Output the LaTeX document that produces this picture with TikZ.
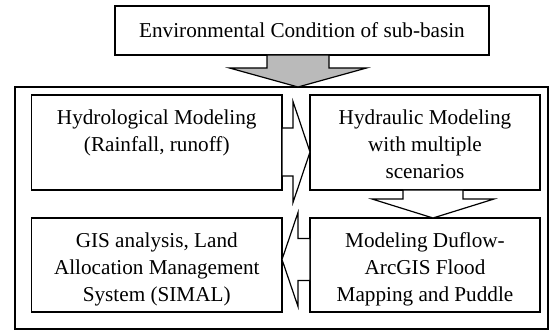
\documentclass[tikz,border=0pt]{standalone}
\usepackage{fontspec}
\setmainfont{Liberation Serif}
\usepackage{tikz}
\usetikzlibrary{calc, positioning}

% block arrow: [style]{from}{to}{shaft half width}{head half width}{head length}
\newcommand{\blockarrow}[6][]{%
  \coordinate (ahb) at ($(#3)!#6!(#2)$);
  \draw[#1] ($(#2)!#4!90:(#3)$) -- ($(ahb)!#4!90:(#3)$) -- ($(ahb)!#5!90:(#3)$) -- (#3)
    -- ($(ahb)!#5!-90:(#3)$) -- ($(ahb)!#4!-90:(#3)$) -- ($(#2)!#4!-90:(#3)$) -- cycle;
}

\begin{document}
\begin{tikzpicture}[x=1pt, y=-1pt,
  font=\fontsize{21.2}{26.7}\selectfont,
  box/.style={draw, line width=1.6pt, rectangle, inner sep=0pt},
  txt/.style={align=center, inner sep=0pt, anchor=north},
  hollow/.style={draw, line width=1.2pt, fill=white, line join=miter},
  solidgray/.style={draw, line width=1.2pt, fill=black!27, line join=miter}]
\useasboundingbox (0,0) rectangle (549,331);

% Top (sub-basin)
\node[box, minimum width=374pt, minimum height=49pt] (env) at (302,30.5) {Environmental Condition of sub-basin};

% Outer frame
\node[box, minimum width=533pt, minimum height=242pt] (outer) at (281.5,208) {};

% Inner boxes
\node[box, minimum width=250.5pt, minimum height=95pt] (hydro) at (156.75,142.5) {};
\node[box, minimum width=230pt, minimum height=95pt] (hydraulic) at (425,142.5) {};
\node[box, minimum width=250.5pt, minimum height=94pt] (gis) at (156.75,265) {};
\node[box, minimum width=230pt, minimum height=94pt] (duflow) at (425,265) {};

\node[txt, below=15.5pt of hydro.north] (hydroTxt) {Hydrological Modeling\\(Rainfall, runoff)};
\node[txt, below=15.5pt of hydraulic.north] (hydraulicTxt) {Hydraulic Modeling\\with multiple\\scenarios};
\node[txt, below=15.5pt of gis.north] (gisTxt) {GIS analysis, Land\\Allocation Management\\System (SIMAL)};
\node[txt, below=15.5pt of duflow.north] (duflowTxt) {Modeling Duflow-\\ArcGIS Flood\\Mapping and Puddle};

% Arrow ends
\coordinate (envOut) at (298,55);
\coordinate (outerIn) at (298,87);
\coordinate (hydroOut) at (282,152);
\coordinate (hydraulicIn) at (310,152);
\coordinate (hydraulicOut) at (433,190);
\coordinate (duflowIn) at (433,218);
\coordinate (duflowOut) at (310,259.5);
\coordinate (gisIn) at (282,259.5);

\blockarrow[solidgray]{envOut}{outerIn}{31pt}{68.5pt}{19pt}
\blockarrow[hollow]{hydroOut}{hydraulicIn}{24pt}{50.5pt}{17pt}
\blockarrow[hollow]{hydraulicOut}{duflowIn}{30pt}{61pt}{19pt}
\blockarrow[hollow]{duflowOut}{gisIn}{21pt}{47pt}{16pt}
\end{tikzpicture}
\end{document}
